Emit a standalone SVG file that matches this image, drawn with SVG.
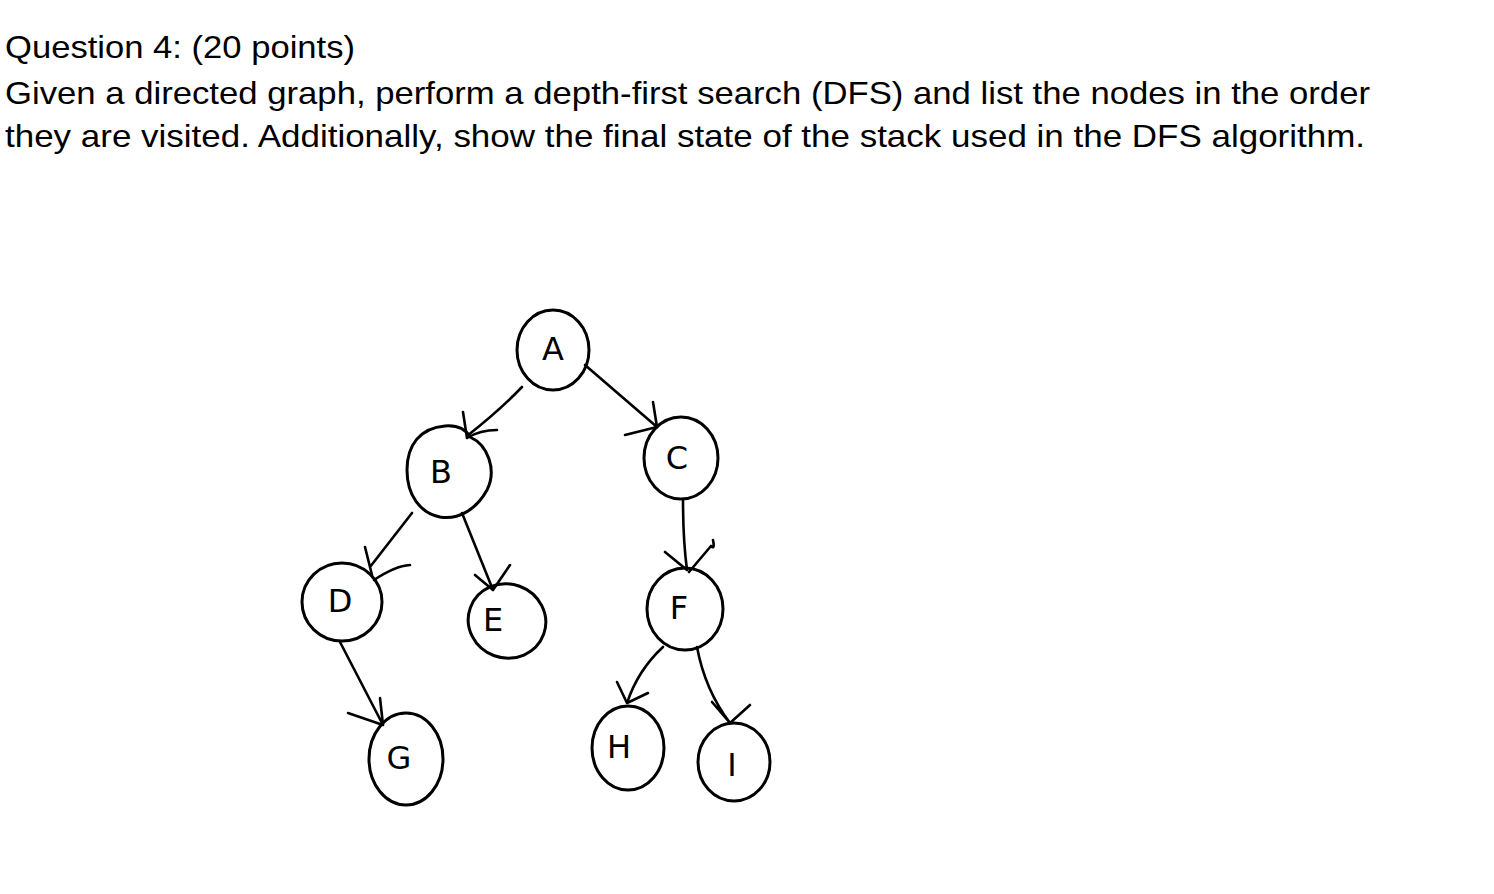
<svg xmlns="http://www.w3.org/2000/svg" width="1494" height="894" viewBox="0 0 1494 894">
<style>
.q{font-family:"Liberation Sans",Arial,sans-serif;font-size:32px;fill:#000}
.n{fill:none;stroke:#000;stroke-width:3}
.l{font-family:"DejaVu Sans","Liberation Sans",sans-serif;font-size:32px;fill:#000;text-anchor:middle;dominant-baseline:central}
.e{fill:none;stroke:#000;stroke-width:2.6;stroke-linecap:round;stroke-linejoin:round}
</style>
<rect width="1494" height="894" fill="#fff"/>
<g id="question">
<text class="q" x="5" y="58" textLength="350" lengthAdjust="spacingAndGlyphs">Question 4: (20 points)</text>
<text class="q" x="5" y="104" textLength="1365" lengthAdjust="spacingAndGlyphs">Given a directed graph, perform a depth-first search (DFS) and list the nodes in the order</text>
<text class="q" x="5" y="147" textLength="1360" lengthAdjust="spacingAndGlyphs">they are visited. Additionally, show the final state of the stack used in the DFS algorithm.</text>
</g>
<g id="connectors">
<path class="e" d="M522,387 Q500,410 467,436 M463,412 L467,438 M497,430 Q480,430 467,438"/>
<path class="e" d="M585,365 L657,427 M653,402 L657,427 L625,435"/>
<path class="e" d="M412,513 L370,567 M365,547 L372,575 M410,565 Q395,566 374,580"/>
<path class="e" d="M462,513 L493,590 M475,575 L493,590 L510,565"/>
<path class="e" d="M683,500 Q683,540 687,570 M665,552 L687,570 M713,540 Q715,550 711,546 L689,572"/>
<path class="e" d="M340,642 L383,725 M348,713 L383,725 L380,698"/>
<path class="e" d="M663,647 Q638,670 627,703 M617,682 L627,703 L648,693"/>
<path class="e" d="M697,647 Q705,690 730,723 M712,702 L730,723 L750,705"/>
</g>
<g id="node-A"><ellipse class="n" cx="553" cy="350" rx="36" ry="40"/><text class="l" x="553" y="349">A</text></g>
<g id="node-B"><path class="n" d="M470,437 C488,445 497,470 487,490 C476,510 458,520 440,517 C420,513 407,495 407,470 C407,445 420,428 445,426 C458,425 466,430 470,437 Z"/><text class="l" x="441" y="472">B</text></g>
<g id="node-C"><ellipse class="n" cx="681" cy="458" rx="37" ry="41"/><text class="l" x="677" y="458">C</text></g>
<g id="node-D"><ellipse class="n" cx="342" cy="602" rx="40" ry="39"/><text class="l" x="340" y="601">D</text></g>
<g id="node-E"><ellipse class="n" cx="507" cy="621" rx="39" ry="37" transform="rotate(20 507 621)"/><text class="l" x="493" y="620">E</text></g>
<g id="node-F"><ellipse class="n" cx="685" cy="609" rx="38" ry="41"/><text class="l" x="679" y="608">F</text></g>
<g id="node-G"><ellipse class="n" cx="406" cy="759" rx="37" ry="46"/><text class="l" x="399" y="758">G</text></g>
<g id="node-H"><ellipse class="n" cx="628" cy="748" rx="36" ry="42"/><text class="l" x="619" y="747">H</text></g>
<g id="node-I"><ellipse class="n" cx="734" cy="762" rx="36" ry="39"/><text class="l" x="732" y="765">I</text></g>
</svg>
